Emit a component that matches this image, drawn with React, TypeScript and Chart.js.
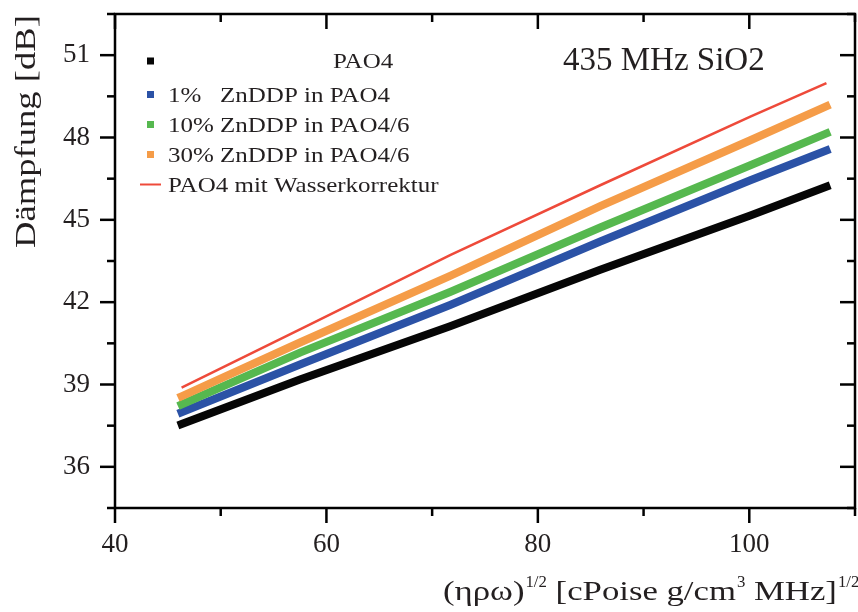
import React, { useEffect, useRef } from 'react';
import { Chart, registerables } from 'chart.js';

Chart.register(...registerables);

// ---- data ----
const xValues = [46.3, 57.5, 71.7, 85.9, 100.1, 107.3];
const pao4 = [37.56, 39.18, 41.12, 43.18, 45.16, 46.21];
const zn1 = [37.99, 39.73, 41.9, 44.21, 46.44, 47.53];
const zn10 = [38.27, 40.16, 42.37, 44.72, 46.99, 48.15];
const zn30 = [38.57, 40.53, 42.96, 45.5, 47.9, 49.14];
const wasser = [38.89, 41.01, 43.71, 46.26, 48.76, 49.98];

const seriesLabels = [
  'PAO4',
  '1%   ZnDDP in PAO4',
  '10% ZnDDP in PAO4/6',
  '30% ZnDDP in PAO4/6',
  'PAO4 mit Wasserkorrektur',
];
const seriesColors = ['#060606', '#2b52a6', '#56b84f', '#f59c48', '#ee4a3a'];

const xMajorTicks = [40, 60, 80, 100];
const xMinorTicks = [50, 70, 90, 110];
const yMajorTicks = [36, 39, 42, 45, 48, 51];
const yMinorTicks = [34.5, 37.5, 40.5, 43.5, 46.5, 49.5, 52.5];

const annotationText = '435 MHz SiO2';
const yTitle = 'Dämpfung [dB]';
const xTitleParts = [
  { t: '(ηρω)', sup: false },
  { t: '1/2', sup: true },
  { t: ' [cPoise g/cm', sup: false },
  { t: '3', sup: true },
  { t: ' MHz]', sup: false },
  { t: '1/2', sup: true },
];

const TEXT = '#231f20';
const SERIF = '"Liberation Serif", "Times New Roman", serif';

function pts(ys: number[]) {
  return xValues.map((x, i) => ({ x, y: ys[i] }));
}

function stretchedText(ctx: CanvasRenderingContext2D, t: string, x: number, y: number, sx: number) {
  ctx.save();
  ctx.translate(x, y);
  ctx.scale(sx, 1);
  ctx.fillText(t, 0, 0);
  ctx.restore();
  return ctx.measureText(t).width * sx;
}

const decorPlugin = {
  id: 'decor',
  afterDraw(chart: any) {
    const ctx: CanvasRenderingContext2D = chart.ctx;
    const { left, right, top, bottom } = chart.chartArea;
    const xs = chart.scales.x;
    const ys = chart.scales.y;
    ctx.save();
    // frame
    ctx.strokeStyle = '#000';
    ctx.lineWidth = 2.5;
    ctx.lineCap = 'butt';
    ctx.strokeRect(left, top, right - left, bottom - top);
    const tick = (x1: number, y1: number, x2: number, y2: number) => {
      ctx.beginPath();
      ctx.moveTo(x1, y1);
      ctx.lineTo(x2, y2);
      ctx.stroke();
    };
    const drawX = (vals: number[], len: number) => {
      vals.forEach((v) => {
        const px = xs.getPixelForValue(v);
        tick(px, bottom, px, bottom + len);
        tick(px, top, px, top + len);
      });
    };
    const drawY = (vals: number[], len: number) => {
      vals.forEach((v) => {
        const py = ys.getPixelForValue(v);
        tick(left, py, left - len, py);
        tick(right, py, right - len, py);
      });
    };
    drawX(xMajorTicks, 15);
    drawX(xMinorTicks, 8);
    drawY(yMajorTicks, 15);
    drawY(yMinorTicks, 8);

    // legend
    const rowBase = [68, 101.5, 131.5, 161.5, 191.5];
    const rowX = [333, 168, 168, 168, 168];
    ctx.textAlign = 'left';
    ctx.textBaseline = 'alphabetic';
    ctx.font = `21px ${SERIF}`;
    chart.data.datasets.forEach((ds: any, i: number) => {
      const cy = rowBase[i] - 7;
      if (ds.borderWidth > 4) {
        ctx.fillStyle = ds.borderColor;
        ctx.fillRect(147, cy - 3.5, 7, 7);
      } else {
        ctx.strokeStyle = ds.borderColor;
        ctx.lineWidth = 2;
        tick(140, cy, 161, cy);
      }
      ctx.fillStyle = TEXT;
      stretchedText(ctx, ds.label, rowX[i], rowBase[i], 1.19);
    });

    // annotation
    ctx.font = `33px ${SERIF}`;
    ctx.fillStyle = TEXT;
    ctx.fillText(annotationText, 563, 70);

    // y title
    ctx.save();
    ctx.translate(35, 131.5);
    ctx.rotate(-Math.PI / 2);
    ctx.font = `30px ${SERIF}`;
    ctx.textAlign = 'center';
    ctx.scale(1.22, 1);
    ctx.fillText(yTitle, 0, 0);
    ctx.restore();

    // x title
    let cx = 443;
    xTitleParts.forEach((p) => {
      if (p.sup) {
        ctx.font = `16px ${SERIF}`;
        cx += stretchedText(ctx, p.t, cx + 1, 587, 1.05) + 1;
      } else {
        ctx.font = `28px ${SERIF}`;
        cx += stretchedText(ctx, p.t, cx, 600, 1.24);
      }
    });
    ctx.restore();
  },
};

export default function App() {
  const ref = useRef<HTMLCanvasElement | null>(null);
  useEffect(() => {
    if (!ref.current) return;
    const seriesData = [pao4, zn1, zn10, zn30, wasser];
    const chart = new Chart(ref.current, {
      type: 'scatter',
      data: {
        datasets: seriesData.map((ys, i) => ({
          label: seriesLabels[i],
          data: pts(ys),
          showLine: true,
          borderColor: seriesColors[i],
          backgroundColor: seriesColors[i],
          borderWidth: i === 4 ? 2.5 : 8,
          borderCapStyle: i === 4 ? 'butt' : 'square',
          pointRadius: 0,
          tension: 0,
          fill: false,
          order: 5 - i,
        })),
      },
      options: {
        animation: false,
        responsive: false,
        devicePixelRatio: 1,
        layout: { padding: { top: 14, right: 3, left: 0, bottom: 0 } },
        plugins: { legend: { display: false }, title: { display: false }, tooltip: { enabled: false } },
        scales: {
          x: {
            type: 'linear',
            min: 40,
            max: 110,
            grid: { display: false, drawTicks: false, tickLength: 0 },
            border: { display: false },
            afterBuildTicks: (axis: any) => {
              axis.ticks = xMajorTicks.map((v) => ({ value: v }));
            },
            afterFit: (scale: any) => {
              scale.height = 104;
              scale.paddingLeft = 0;
              scale.paddingRight = 0;
              scale.paddingTop = 0;
              scale.paddingBottom = 0;
            },
            ticks: {
              padding: 21,
              maxRotation: 0,
              autoSkip: false,
              color: TEXT,
              font: { family: SERIF, size: 27 },
            },
          },
          y: {
            type: 'linear',
            min: 34.5,
            max: 52.5,
            grid: { display: false, drawTicks: false, tickLength: 0 },
            border: { display: false },
            afterBuildTicks: (axis: any) => {
              axis.ticks = yMajorTicks.map((v) => ({ value: v }));
            },
            afterFit: (scale: any) => {
              scale.width = 115;
              scale.paddingLeft = 0;
              scale.paddingRight = 0;
              scale.paddingTop = 0;
              scale.paddingBottom = 0;
            },
            ticks: {
              padding: 25,
              autoSkip: false,
              color: TEXT,
              font: { family: SERIF, size: 27 },
            },
          },
        },
      },
      plugins: [decorPlugin],
    } as any);
    return () => chart.destroy();
  }, []);
  return (
    <div style={{ position: 'absolute', left: 0, top: 0, width: 858, height: 612, background: '#fff' }}>
      <canvas ref={ref} width={858} height={612} />
    </div>
  );
}
